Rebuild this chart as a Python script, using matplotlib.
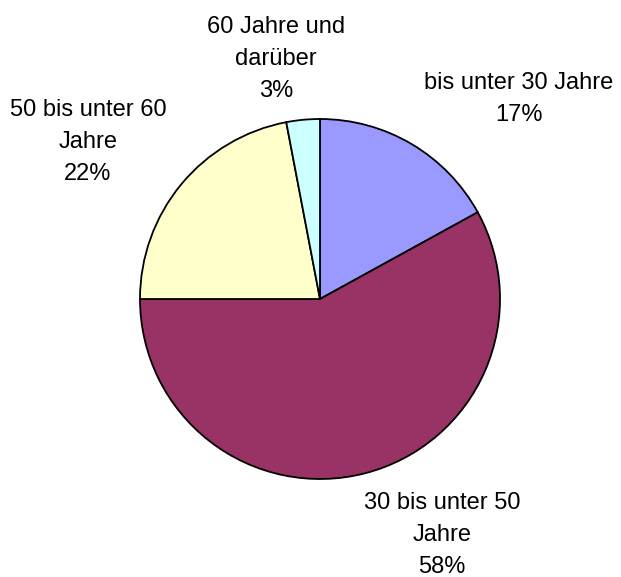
"""
Pie chart of the age groups
"""

# IMPORTs
import matplotlib
matplotlib.use('Agg')

# IMPORTs alias
import matplotlib.pyplot as plt

# DATA
age_groups = ['bis unter 30 Jahre', '30 bis unter 50 Jahre', '50 bis unter 60 Jahre', '60 Jahre und darüber']
label_lines = ['bis unter 30 Jahre', '30 bis unter 50\nJahre', '50 bis unter 60\nJahre', '60 Jahre und\ndarüber']
shares = [17, 58, 22, 3]
colours = ['#9999FF', '#993366', '#FFFFCC', '#CCFFFF']

# LABEL positions (pie radius = 1)
label_xy = [(1.106, 1.111), (0.678, -1.31), (-1.289, 0.872), (-0.244, 1.333)]


def main() -> None:

    fig = plt.figure(figsize=(6.21, 5.77), dpi=100)
    ax = fig.add_axes((0, 0, 1, 1))

    # PIE
    ax.pie(
        shares,
        colors=colours,
        startangle=90,
        counterclock=False,
        radius=1,
        wedgeprops=dict(edgecolor='black', linewidth=1.3),
    )

    # LABELs
    for text, share, (x, y) in zip(label_lines, shares, label_xy):
        ax.text(
            x, y, f'{text}\n{share}%',
            ha='center', va='center',
            fontsize=17, family=['Liberation Sans', 'DejaVu Sans'],
            linespacing=1.6, color='black',
        )

    # LIMITs so the pie sits where it is in the original (radius 180 px)
    ax.set_xlim(-320 / 180, 301 / 180)
    ax.set_ylim(-278 / 180, 299 / 180)
    ax.set_aspect('auto')
    ax.axis('off')

    fig.savefig('out.png', dpi=100, facecolor='white')
    plt.close(fig)


if __name__ == '__main__':
    main()
